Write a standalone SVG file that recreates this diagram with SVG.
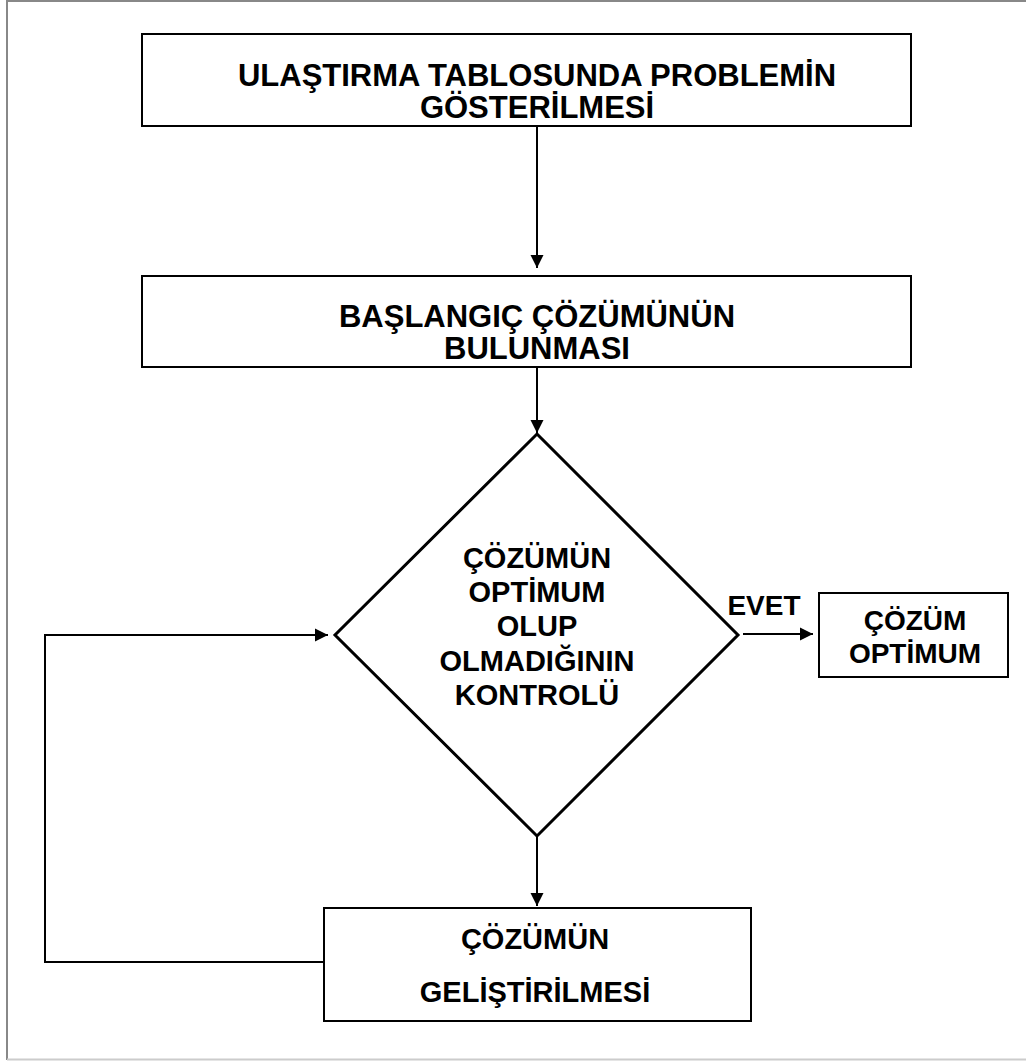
<svg xmlns="http://www.w3.org/2000/svg" width="1026" height="1061" viewBox="0 0 1026 1061">
<style>
.box{fill:#fff;stroke:#000;stroke-width:2}
.dia{fill:#fff;stroke:#000;stroke-width:3}
.t{font-family:"Liberation Sans",Arial,sans-serif;font-weight:bold;font-size:29px;fill:#000;text-anchor:middle}
.tb{font-size:31px}
.c{fill:none;stroke:#000;stroke-width:2}
</style>
<defs>
<marker id="ah" markerUnits="userSpaceOnUse" markerWidth="14" markerHeight="14" viewBox="0 0 14 14" refX="13" refY="7" orient="auto">
<path d="M0,0.5 L13,7 L0,13.5 Z" fill="#000"/>
</marker>
</defs>
<rect x="0" y="0" width="1026" height="1061" fill="#fff"/>
<path d="M7,1060 L7,1 L1026,1" fill="none" stroke="#888" stroke-width="2"/>
<path d="M7,1059.5 L1026,1059.5" fill="none" stroke="#ccc" stroke-width="2"/>

<g id="n1">
<rect class="box" x="142" y="34" width="769" height="92"/>
<text class="t tb" x="537" y="86">ULAŞTIRMA TABLOSUNDA PROBLEMİN</text>
<text class="t tb" x="537" y="118">GÖSTERİLMESİ</text>
</g>
<g id="n2">
<rect class="box" x="142" y="276" width="769" height="91"/>
<text class="t tb" x="537" y="327">BAŞLANGIÇ ÇÖZÜMÜNÜN</text>
<text class="t tb" x="537" y="359">BULUNMASI</text>
</g>
<g id="n3">
<polygon class="dia" points="537,434 738,635 537,836 335,635"/>
<text class="t" x="537" y="568">ÇÖZÜMÜN</text>
<text class="t" x="537" y="602">OPTİMUM</text>
<text class="t" x="537" y="636">OLUP</text>
<text class="t" x="537" y="671">OLMADIĞININ</text>
<text class="t" x="537" y="705">KONTROLÜ</text>
</g>
<g id="n4">
<rect class="box" x="819" y="593" width="189" height="84"/>
<text class="t" x="915" y="630" style="font-size:28px">ÇÖZÜM</text>
<text class="t" x="915" y="663" style="font-size:28px">OPTİMUM</text>
</g>
<g id="n5">
<rect class="box" x="324" y="908" width="427" height="113"/>
<text class="t" x="535" y="949">ÇÖZÜMÜN</text>
<text class="t" x="535" y="1002">GELİŞTİRİLMESİ</text>
</g>
<g id="connectors">
<line class="c" x1="537" y1="126" x2="537" y2="268" marker-end="url(#ah)"/>
<line class="c" x1="537" y1="367" x2="537" y2="433" marker-end="url(#ah)"/>
<line class="c" x1="537" y1="837" x2="537" y2="906" marker-end="url(#ah)"/>
<line class="c" x1="743" y1="634" x2="813" y2="634" marker-end="url(#ah)"/>
<polyline class="c" points="324,962 45,962 45,635 328,635" marker-end="url(#ah)"/>
<text class="t" x="764" y="615" style="font-size:28px">EVET</text>
</g>
</svg>
